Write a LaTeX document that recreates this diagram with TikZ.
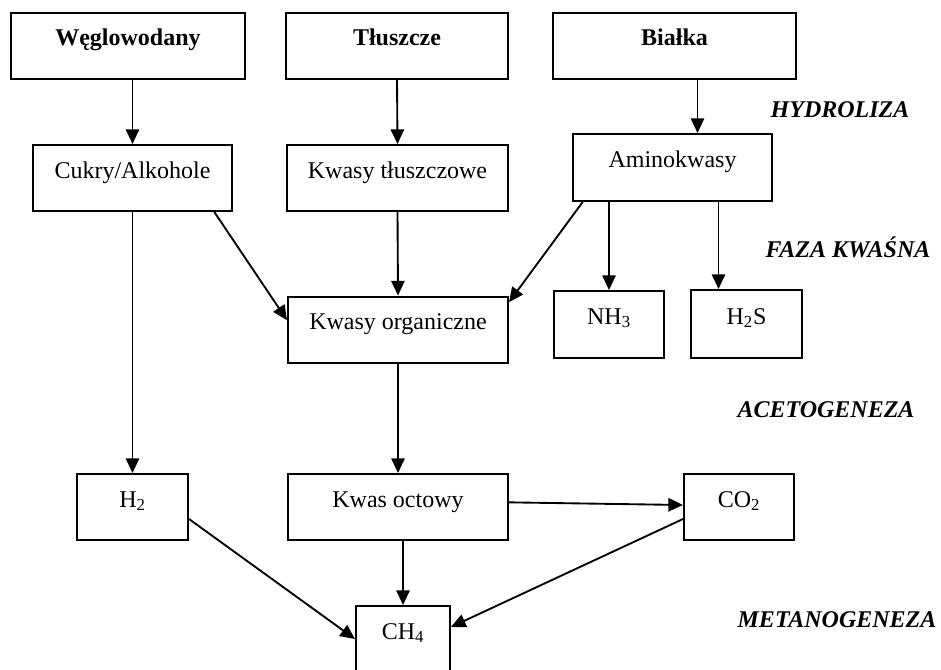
\documentclass[tikz,border=0pt]{standalone}
\usepackage{fontspec}
\setmainfont{Liberation Serif}
\usetikzlibrary{arrows.meta}
\tikzset{
	pudlo/.style={draw,line width=1.5pt,rectangle,inner xsep=0pt,inner ysep=0pt,
		minimum height=49.5pt,text height=8pt,text depth=8pt,
		font=\fontsize{18}{21}\selectfont},
	pudlogl/.style={pudlo,font=\fontsize{18}{21}\selectfont\bfseries},
	etap/.style={font=\fontsize{18}{21}\selectfont\bfseries\itshape},
	strz/.style={line width=1.4pt,-{Triangle[length=11pt,width=10pt]}}
}
\begin{document}
\begin{tikzpicture}[x=0.75pt,y=-0.75pt]
\useasboundingbox (0,0) rectangle (941,669);

% substraty
\node[pudlogl,minimum width=175.5pt] (wegl) at (128,45.5) {Węglowodany};
\node[pudlogl,minimum width=166.5pt] (tlusz) at (397,45.5) {Tłuszcze};
\node[pudlogl,minimum width=182.25pt] (bialka) at (674.5,45.5) {Białka};

% hydroliza
\node[pudlo,minimum width=149.25pt] (cukry) at (132.5,178) {Cukry/Alkohole};
\node[pudlo,minimum width=165.75pt] (ktl) at (397.5,178) {Kwasy tłuszczowe};
\node[pudlo,minimum width=149.25pt,minimum height=50.25pt] (amino) at (672.5,167.5) {Aminokwasy};

% faza kwasna
\node[pudlo,minimum width=165pt] (korg) at (398,329.5) {Kwasy organiczne};
\node[pudlo,minimum width=82.5pt,minimum height=50.25pt] (nh) at (609,324.5) {NH\textsubscript{3}};
\node[pudlo,minimum width=83.25pt,minimum height=51pt] (hs) at (746.5,324) {H\textsubscript{2}S};

% acetogeneza
\node[pudlo,minimum width=83.25pt] (wod) at (132.5,507) {H\textsubscript{2}};
\node[pudlo,minimum width=165pt] (koct) at (398,507) {Kwas octowy};
\node[pudlo,minimum width=82.5pt] (dwut) at (739,507) {CO\textsubscript{2}};

% metanogeneza
\node[pudlo,minimum width=70.5pt] (metan) at (403,639) {CH\textsubscript{4}};

% etapy
\node[etap] (e1) at (840,110) {HYDROLIZA};
\node[etap] (e2) at (848,247) {FAZA KWAŚNA};
\node[etap] (e3) at (826,410) {ACETOGENEZA};
\node[etap] (e4) at (837,620) {METANOGENEZA};

\coordinate (bwy) at ([xshift=17.25pt]bialka.south);
\coordinate (hsw) at ([xshift=-21pt]hs.north);

\draw[strz] (wegl.south -| cukry) -- (cukry.north);
\draw[strz] (tlusz.south) -- (ktl.north);
\draw[strz] (bwy) -- (bwy |- amino.north);
\draw[strz] (cukry.south) -- (wod.north);
\draw[strz] ([xshift=-14pt]cukry.south east) -- ([yshift=7pt]korg.west);
\draw[strz] (ktl.south) -- (korg.north);
\draw[strz] ([xshift=8pt]amino.south west) -- ([yshift=-5pt]korg.north east);
\draw[strz] (amino.south -| nh) -- (nh.north);
\draw[strz] (amino.south -| hsw) -- (hsw);
\draw[strz] (korg.south) -- (koct.north);
\draw[strz] ([yshift=3.5pt]koct.east) -- ([yshift=1.5pt]dwut.west);
\draw[strz] (koct.south -| metan) -- (metan.north);
\draw[strz] ([yshift=-9pt]wod.east) -- (metan.west);
\draw[strz] ([yshift=-9pt]dwut.west) -- ([yshift=9pt]metan.east);

\end{tikzpicture}
\end{document}
